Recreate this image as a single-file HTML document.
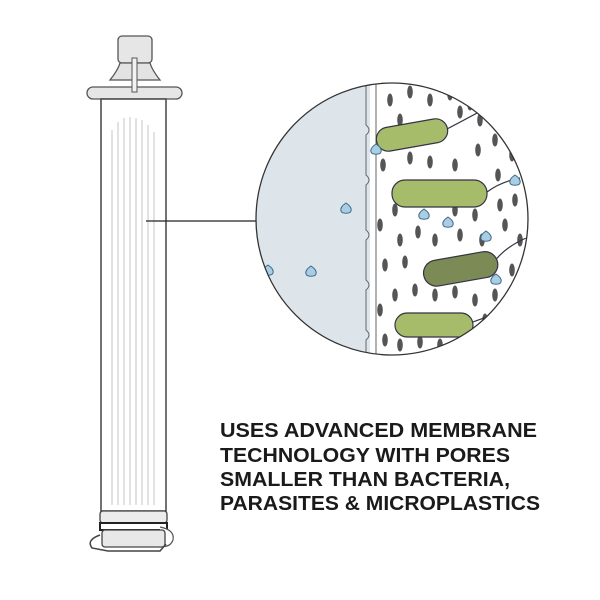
<!DOCTYPE html>
<html><head><meta charset="utf-8"><style>html,body{margin:0;padding:0;background:#fff}svg{display:block}</style></head>
<body>
<svg width="600" height="600" viewBox="0 0 600 600" xmlns="http://www.w3.org/2000/svg">
<defs>
<clipPath id="c"><circle cx="392" cy="219" r="136"/></clipPath>
<g id="dot"><ellipse rx="2.8" ry="6.5" fill="#555"/></g>
<g id="drop"><path d="M0,-5 C3,-3 6,0 5,3 C4,6 -4,6 -5,3 C-6,0 -3,-3 0,-5Z" fill="#a9cde4" stroke="#3d6a86" stroke-width="1"/></g>
</defs>
<!-- filter tube -->
<rect x="118" y="36" width="34" height="27" rx="4" fill="#e6e6e6" stroke="#555" stroke-width="1.3"/>
<path d="M110,80 Q118,70 120,63 L150,63 Q152,70 160,80 Z" fill="#e3e3e3" stroke="#555" stroke-width="1.3"/>
<rect x="87" y="87" width="95" height="12" rx="6" fill="#e6e6e6" stroke="#555" stroke-width="1.3"/>
<rect x="132" y="58" width="5" height="34" fill="#f2f2f2" stroke="#555" stroke-width="1"/>
<rect x="101" y="99" width="65" height="412" fill="#fff" stroke="#444" stroke-width="1.5"/>
<g stroke="#cfcfcf" stroke-width="1.2">
<line x1="112" y1="130" x2="112" y2="505"/><line x1="118" y1="122" x2="118" y2="505"/><line x1="124" y1="118" x2="124" y2="505"/><line x1="130" y1="117" x2="130" y2="505"/><line x1="136" y1="118" x2="136" y2="505"/><line x1="142" y1="120" x2="142" y2="505"/><line x1="148" y1="125" x2="148" y2="505"/><line x1="154" y1="132" x2="154" y2="505"/>
</g>
<rect x="100" y="511" width="67" height="12" rx="3" fill="#ececec" stroke="#444" stroke-width="1.3"/>
<rect x="100" y="523" width="67" height="7" fill="#fff" stroke="#222" stroke-width="2"/>
<path d="M160,527 Q175,530 173,540 Q170,548 160,546" fill="#fff" stroke="#555" stroke-width="1.2"/>
<path d="M100,535 Q86,540 92,548 L108,551 L160,551 L166,544" fill="#fff" stroke="#444" stroke-width="1.5"/>
<rect x="102" y="530" width="63" height="17" rx="3" fill="#e8e8e8" stroke="#444" stroke-width="1.3"/>
<!-- connector -->
<line x1="146" y1="221" x2="258" y2="221" stroke="#222" stroke-width="1.3"/>
<!-- circle -->
<g clip-path="url(#c)">
<rect x="250" y="80" width="120" height="280" fill="#dde5eb"/>
<rect x="370" y="80" width="170" height="280" fill="#fff"/>
<path d="M366,80 L366,125 Q372,130 366,135 L366,175 Q372,180 366,185 L366,230 Q372,235 366,240 L366,280 Q372,285 366,290 L366,330 Q372,335 366,340 L366,360" fill="none" stroke="#666" stroke-width="1"/>
<line x1="376" y1="80" x2="376" y2="360" stroke="#666" stroke-width="1"/>
<g>
<use href="#dot" x="390" y="100"/><use href="#dot" x="410" y="92"/><use href="#dot" x="430" y="100"/><use href="#dot" x="450" y="94"/><use href="#dot" x="470" y="104"/><use href="#dot" x="460" y="112"/>
<use href="#dot" x="480" y="120"/><use href="#dot" x="500" y="115"/><use href="#dot" x="400" y="120"/><use href="#dot" x="495" y="140"/><use href="#dot" x="478" y="150"/><use href="#dot" x="512" y="155"/>
<use href="#dot" x="383" y="165"/><use href="#dot" x="410" y="158"/><use href="#dot" x="430" y="162"/><use href="#dot" x="455" y="165"/><use href="#dot" x="498" y="175"/>
<use href="#dot" x="515" y="200"/><use href="#dot" x="500" y="205"/><use href="#dot" x="475" y="215"/><use href="#dot" x="455" y="210"/><use href="#dot" x="395" y="210"/><use href="#dot" x="380" y="225"/>
<use href="#dot" x="400" y="240"/><use href="#dot" x="418" y="232"/><use href="#dot" x="435" y="240"/><use href="#dot" x="460" y="235"/><use href="#dot" x="482" y="240"/><use href="#dot" x="505" y="225"/><use href="#dot" x="520" y="240"/>
<use href="#dot" x="385" y="265"/><use href="#dot" x="405" y="262"/><use href="#dot" x="512" y="270"/><use href="#dot" x="495" y="295"/><use href="#dot" x="475" y="300"/><use href="#dot" x="455" y="292"/>
<use href="#dot" x="435" y="295"/><use href="#dot" x="415" y="290"/><use href="#dot" x="395" y="295"/><use href="#dot" x="380" y="310"/><use href="#dot" x="505" y="315"/><use href="#dot" x="485" y="320"/>
<use href="#dot" x="385" y="340"/><use href="#dot" x="400" y="345"/><use href="#dot" x="420" y="342"/><use href="#dot" x="440" y="345"/><use href="#dot" x="465" y="340"/><use href="#dot" x="485" y="345"/>
</g>
<g stroke="#334" stroke-width="1.2">
<g transform="rotate(-10 412 135)"><rect x="376" y="123" width="72" height="24" rx="12" fill="#a6bc6b"/><path d="M448,135 Q470,128 500,118" fill="none"/></g>
<rect x="392" y="180" width="95" height="27" rx="13" fill="#a6bc6b"/><path d="M487,192 Q500,182 520,178" fill="none"/>
<g transform="rotate(-10 460 268)"><rect x="423" y="256" width="75" height="26" rx="13" fill="#7c8a55"/><path d="M498,265 Q510,255 530,250" fill="none"/></g>
<rect x="395" y="313" width="78" height="24" rx="12" fill="#a6bc6b"/><path d="M473,322 Q490,315 520,310" fill="none"/>
</g>
<use href="#drop" x="376" y="149"/><use href="#drop" x="346" y="208"/><use href="#drop" x="311" y="271"/><use href="#drop" x="268" y="270"/><use href="#drop" x="424" y="214"/><use href="#drop" x="448" y="222"/><use href="#drop" x="486" y="236"/><use href="#drop" x="515" y="180"/><use href="#drop" x="496" y="279"/>
</g>
<circle cx="392" cy="219" r="136" fill="none" stroke="#333" stroke-width="1.3"/>
<!-- text -->
<g font-family="Liberation Sans, sans-serif" font-weight="bold" font-size="20" fill="#1a1a1a">
<text x="220" y="437" textLength="317" lengthAdjust="spacingAndGlyphs">USES ADVANCED MEMBRANE</text>
<text x="220" y="462" textLength="290" lengthAdjust="spacingAndGlyphs">TECHNOLOGY WITH PORES</text>
<text x="220" y="486" textLength="290" lengthAdjust="spacingAndGlyphs">SMALLER THAN BACTERIA,</text>
<text x="220" y="510" textLength="320" lengthAdjust="spacingAndGlyphs">PARASITES &amp; MICROPLASTICS</text>
</g>
</svg>
</body></html>
